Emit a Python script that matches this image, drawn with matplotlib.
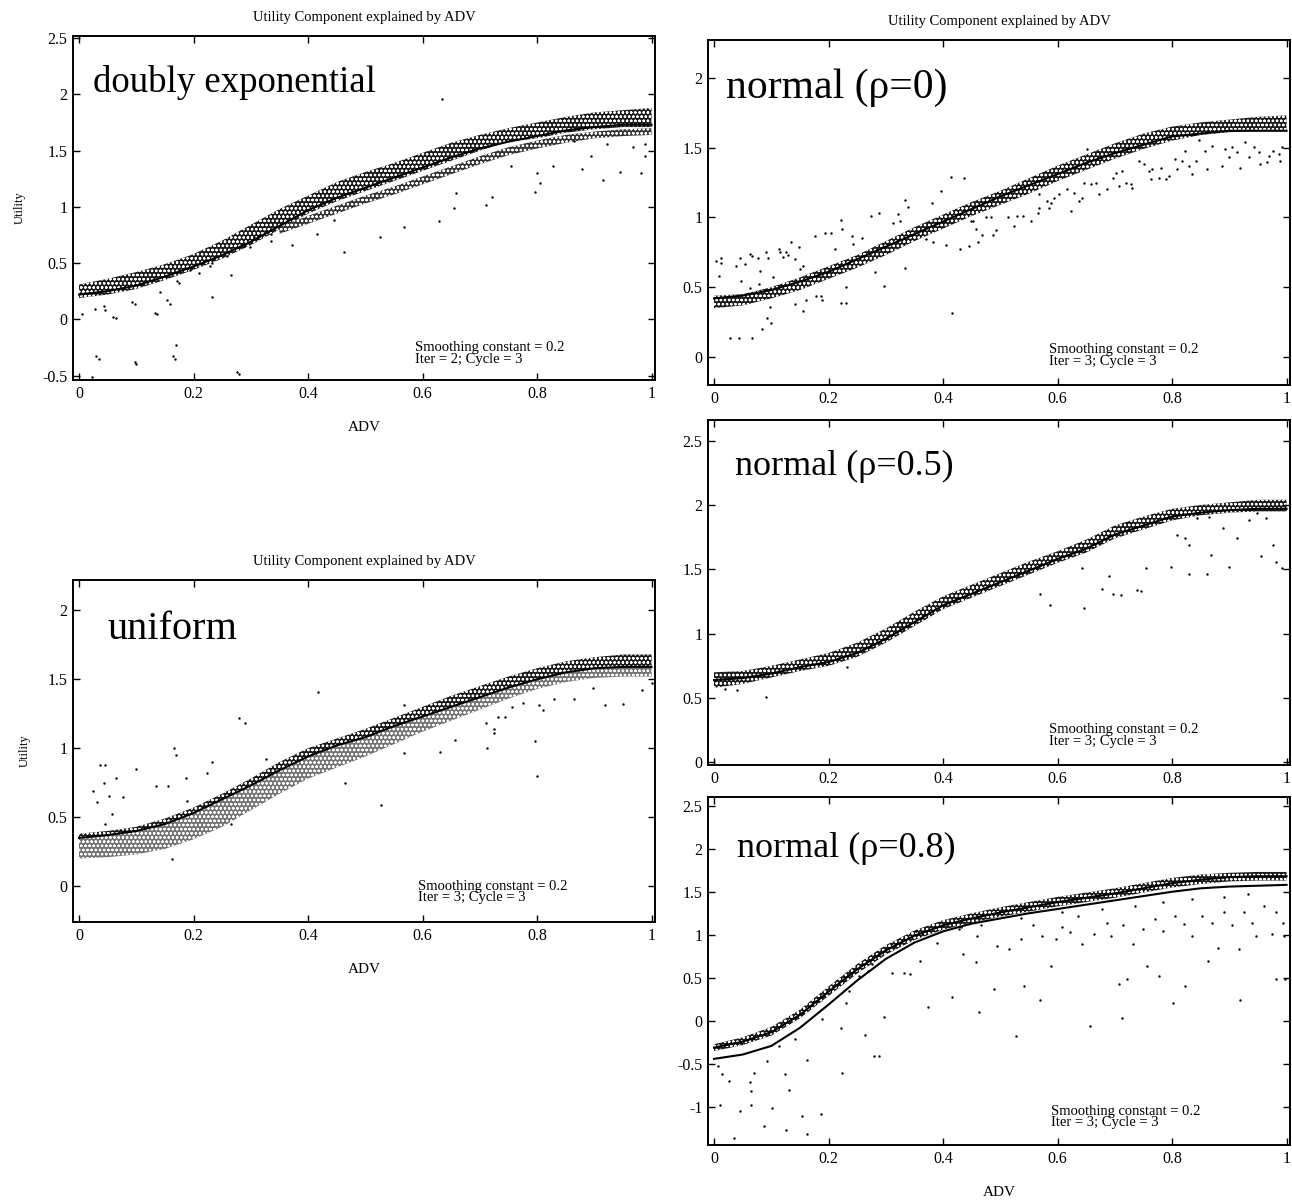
import matplotlib
matplotlib.use("Agg")
import matplotlib.pyplot as plt

plt.rcParams['font.family'] = ['Liberation Serif', 'DejaVu Serif']
plt.rcParams['hatch.linewidth'] = 0.6

# ---------------- data ----------------
X = [0.0, 0.05, 0.1, 0.15, 0.2, 0.25, 0.3, 0.35, 0.4, 0.45, 0.5,
     0.55, 0.6, 0.65, 0.7, 0.75, 0.8, 0.85, 0.9, 0.95, 1.0]
X_TICKS = [0, 0.2, 0.4, 0.6, 0.8, 1]
X_TICK_LABELS = ['0', '0.2', '0.4', '0.6', '0.8', '1']
TITLE = 'Utility Component explained by ADV'

# Panel 1: doubly exponential
P1_LINE = [0.22, 0.25, 0.30, 0.38, 0.47, 0.57, 0.69, 0.83, 0.97, 1.08, 1.17,
           1.26, 1.35, 1.44, 1.52, 1.58, 1.63, 1.68, 1.71, 1.73, 1.73]
P1_UP_TOP = [0.31, 0.36, 0.42, 0.49, 0.58, 0.70, 0.84, 0.98, 1.10, 1.22, 1.31,
             1.39, 1.48, 1.57, 1.64, 1.70, 1.75, 1.80, 1.84, 1.86, 1.88]
P1_UP_BOT = [0.19, 0.22, 0.27, 0.35, 0.44, 0.54, 0.66, 0.80, 0.94, 1.05, 1.14,
             1.23, 1.32, 1.41, 1.50, 1.58, 1.61, 1.66, 1.69, 1.71, 1.71]
P1_LOW_X = [0.35, 0.4, 0.45, 0.5, 0.55, 0.6, 0.65, 0.7, 0.75, 0.8, 0.85, 0.9, 0.95, 1.0]
P1_LOW_TOP = [0.82, 0.92, 1.01, 1.10, 1.18, 1.27, 1.36, 1.45, 1.53, 1.59, 1.64, 1.67, 1.69, 1.70]
P1_LOW_BOT = [0.76, 0.85, 0.94, 1.03, 1.11, 1.20, 1.29, 1.38, 1.46, 1.52, 1.57, 1.61, 1.63, 1.64]
P1_OUT_X = [0.634, 0.567, 0.629, 0.526, 0.463, 0.416, 0.372, 0.446, 0.655, 0.659, 0.71, 0.721,
            0.754, 0.80, 0.797, 0.805, 0.827, 0.879, 0.894, 0.916, 0.945, 0.982, 0.989, 0.989,
            0.923, 0.967, 0.864, 0.266, 0.233, 0.174, 0.137, 0.159, 0.097, 0.064, 0.046, 0.005,
            0.035, 0.10, 0.167, 0.170, 0.023, 0.28, 0.233, 0.299, 0.336, 0.21,
            0.259, 0.229, 0.206, 0.305, 0.335, 0.288, 0.194, 0.171, 0.154, 0.142, 0.133,
            0.06, 0.043, 0.028, 0.092, 0.164, 0.098, 0.03, 0.276]
P1_OUT_Y = [1.96, 0.82, 0.87, 0.73, 0.60, 0.76, 0.66, 0.88, 0.99, 1.12, 1.02, 1.09,
            1.36, 1.30, 1.13, 1.21, 1.36, 1.34, 1.45, 1.24, 1.31, 1.30, 1.45, 1.56,
            1.56, 1.53, 1.59, 0.39, 0.20, 0.32, 0.05, 0.14, 0.14, 0.01, 0.08, 0.05,
            -0.35, -0.40, -0.35, -0.23, -0.51, -0.49, 0.50, 0.64, 0.70, 0.41,
            0.56, 0.476, 0.49, 0.73, 0.757, 0.65, 0.44, 0.34, 0.17, 0.24, 0.06,
            0.02, 0.12, 0.09, 0.15, -0.33, -0.38, -0.33, -0.47]

# Panel 2: normal (rho=0)
P2_LINE = [0.42, 0.44, 0.48, 0.54, 0.61, 0.70, 0.79, 0.88, 0.97, 1.06, 1.15,
           1.23, 1.31, 1.39, 1.46, 1.52, 1.58, 1.60, 1.62, 1.62, 1.62]
P2_TOP = [0.44, 0.45, 0.50, 0.57, 0.65, 0.73, 0.83, 0.93, 1.02, 1.11, 1.19,
          1.28, 1.37, 1.45, 1.53, 1.60, 1.65, 1.68, 1.70, 1.72, 1.73]
P2_BOT = [0.35, 0.37, 0.42, 0.48, 0.56, 0.64, 0.73, 0.83, 0.92, 1.01, 1.09,
          1.17, 1.26, 1.34, 1.42, 1.49, 1.55, 1.59, 1.61, 1.62, 1.62]
P2_OUT_X = [0.003, 0.013, 0.013, 0.009, 0.038, 0.045, 0.054, 0.062, 0.066, 0.077, 0.081, 0.091,
            0.095, 0.103, 0.113, 0.115, 0.121, 0.125, 0.130, 0.135, 0.141, 0.149, 0.150, 0.155,
            0.047, 0.063, 0.079, 0.083, 0.092, 0.098, 0.100, 0.028, 0.044, 0.066, 0.142, 0.156,
            0.161, 0.178, 0.186, 0.188, 0.176, 0.193, 0.205, 0.211, 0.222, 0.224, 0.231, 0.221,
            0.231, 0.241, 0.258, 0.242, 0.274, 0.289, 0.282, 0.297, 0.312, 0.322, 0.324, 0.333,
            0.339, 0.334, 0.380, 0.371, 0.382, 0.405, 0.415, 0.430, 0.446, 0.449, 0.458, 0.461,
            0.468, 0.475, 0.484, 0.487, 0.493, 0.414, 0.437, 0.397,
            0.452, 0.513, 0.524, 0.530, 0.539, 0.553, 0.565, 0.568, 0.585, 0.588, 0.594, 0.603,
            0.568, 0.582, 0.617, 0.623, 0.629, 0.638, 0.643, 0.646, 0.652, 0.658, 0.667, 0.672,
            0.687, 0.696, 0.702, 0.707, 0.713, 0.719, 0.728, 0.730, 0.742, 0.751, 0.760, 0.763,
            0.765, 0.777, 0.780, 0.789, 0.794, 0.806, 0.809, 0.818, 0.823, 0.829, 0.835, 0.841,
            0.847, 0.858, 0.861, 0.870, 0.887, 0.893, 0.899, 0.905, 0.913, 0.919, 0.928, 0.934,
            0.943, 0.951, 0.954, 0.966, 0.969, 0.977, 0.986, 0.989, 0.992]
P2_OUT_Y = [0.688, 0.676, 0.710, 0.577, 0.650, 0.710, 0.669, 0.737, 0.725, 0.710, 0.614, 0.749,
            0.712, 0.572, 0.773, 0.749, 0.717, 0.754, 0.734, 0.821, 0.705, 0.785, 0.633, 0.652,
            0.541, 0.493, 0.524, 0.203, 0.283, 0.355, 0.241, 0.135, 0.135, 0.138, 0.379, 0.328,
            0.408, 0.435, 0.440, 0.411, 0.867, 0.891, 0.886, 0.773, 0.983, 0.915, 0.500, 0.384,
            0.384, 0.867, 0.850, 0.807, 1.012, 1.029, 0.609, 0.507, 0.959, 1.024, 0.976, 1.121,
            1.077, 0.638, 1.104, 0.848, 0.826, 0.799, 0.319, 0.773, 0.797, 0.971, 0.915, 0.821,
            0.874, 1.005, 1.000, 0.874, 0.911, 1.29, 1.28, 1.19,
            0.971, 1.000, 0.935, 1.007, 1.007, 0.971, 1.031, 1.068, 1.068, 1.104, 1.140, 1.164,
            1.164, 1.116, 1.200, 1.043, 1.176, 1.116, 1.140, 1.249, 1.490, 1.237, 1.249, 1.164,
            1.200, 1.285, 1.321, 1.225, 1.333, 1.249, 1.237, 1.212, 1.406, 1.382, 1.333, 1.273,
            1.345, 1.285, 1.357, 1.273, 1.297, 1.418, 1.345, 1.406, 1.478, 1.370, 1.309, 1.406,
            1.551, 1.478, 1.345, 1.514, 1.370, 1.490, 1.430, 1.502, 1.466, 1.357, 1.538, 1.430,
            1.502, 1.466, 1.382, 1.394, 1.442, 1.478, 1.454, 1.406, 1.502]

# Panel 3: normal (rho=0.5)
P3_LINE = [0.64, 0.655, 0.69, 0.74, 0.78, 0.85, 0.96, 1.09, 1.22, 1.31, 1.40,
           1.49, 1.58, 1.66, 1.77, 1.84, 1.91, 1.94, 1.96, 1.97, 1.97]
P3_TOP = [0.70, 0.71, 0.75, 0.80, 0.85, 0.93, 1.04, 1.17, 1.29, 1.38, 1.47,
          1.56, 1.64, 1.73, 1.84, 1.91, 1.97, 2.00, 2.02, 2.04, 2.04]
P3_BOT = [0.58, 0.61, 0.66, 0.71, 0.75, 0.82, 0.93, 1.06, 1.19, 1.28, 1.37,
          1.46, 1.55, 1.63, 1.74, 1.81, 1.88, 1.92, 1.94, 1.95, 1.95]
P3_OUT_X = [0.091, 0.643, 0.569, 0.587, 0.696, 0.710, 0.745, 0.755, 0.798, 0.829, 0.861, 0.868,
            0.90, 0.829, 0.808, 0.822, 0.843, 0.865, 0.889, 0.914, 0.935, 0.956, 0.977, 0.992,
            0.981, 0.646, 0.678, 0.689, 0.738, 0.964, 0.949, 0.02, 0.04, 0.233]
P3_OUT_Y = [0.506, 1.51, 1.31, 1.22, 1.31, 1.30, 1.33, 1.51, 1.52, 1.46, 1.46, 1.61,
            1.52, 1.69, 1.77, 1.74, 1.90, 1.91, 1.82, 1.74, 1.88, 1.60, 1.69, 1.51,
            1.56, 1.20, 1.35, 1.45, 1.34, 1.90, 1.94, 0.57, 0.56, 0.74]

# Panel 4: normal (rho=0.8)
P4_LINE_A = [-0.31, -0.24, -0.13, 0.07, 0.34, 0.60, 0.82, 0.99, 1.11, 1.19, 1.26,
             1.32, 1.38, 1.43, 1.48, 1.54, 1.60, 1.64, 1.67, 1.68, 1.68]
P4_LINE_B = [-0.44, -0.39, -0.29, -0.08, 0.19, 0.47, 0.72, 0.91, 1.04, 1.13, 1.19,
             1.25, 1.30, 1.35, 1.40, 1.45, 1.50, 1.54, 1.56, 1.57, 1.58]
P4_TOP = [-0.27, -0.19, -0.07, 0.13, 0.40, 0.66, 0.88, 1.05, 1.17, 1.25, 1.32,
          1.38, 1.44, 1.49, 1.54, 1.60, 1.66, 1.70, 1.72, 1.73, 1.73]
P4_BOT = [-0.35, -0.28, -0.17, 0.03, 0.29, 0.55, 0.77, 0.94, 1.06, 1.14, 1.21,
          1.27, 1.33, 1.38, 1.43, 1.49, 1.55, 1.59, 1.62, 1.63, 1.63]
P4_OUT_X = [0.007, 0.014, 0.027, 0.011, 0.045, 0.064, 0.064, 0.062, 0.069, 0.088, 0.102, 0.035,
            0.126, 0.154, 0.163, 0.186, 0.124, 0.131, 0.163, 0.092, 0.113, 0.141, 0.188, 0.221,
            0.223, 0.264, 0.279, 0.288, 0.297, 0.235, 0.230, 0.254, 0.269, 0.276, 0.311, 0.332,
            0.343, 0.360, 0.374, 0.415, 0.435, 0.457, 0.463, 0.489, 0.527, 0.541, 0.569, 0.588,
            0.657, 0.712, 0.707, 0.721, 0.756, 0.777, 0.802, 0.823, 0.862, 0.919, 0.982, 0.998,
            0.881, 0.917, 0.947, 0.975, 0.995, 0.353, 0.389, 0.428, 0.459, 0.495, 0.516, 0.537,
            0.558, 0.572, 0.597, 0.608, 0.622, 0.643, 0.664, 0.686, 0.693, 0.714, 0.731, 0.749,
            0.770, 0.784, 0.806, 0.820, 0.834, 0.852, 0.869, 0.890, 0.905, 0.926, 0.940, 0.961,
            0.982, 0.993, 0.735, 0.784, 0.834, 0.890, 0.933, 0.678, 0.608, 0.537, 0.466, 0.431,
            0.636]
P4_OUT_Y = [-0.52, -0.62, -0.70, -0.97, -1.04, -0.97, -0.81, -0.71, -0.60, -1.22, -1.01, -1.36,
            -1.27, -1.10, -1.31, -1.08, -0.62, -0.80, -0.45, -0.47, -0.29, -0.21, 0.02, -0.08,
            -0.60, -0.16, -0.41, -0.41, 0.05, 0.35, 0.21, 0.52, 0.58, 0.66, 0.56, 0.56,
            0.54, 0.70, 0.16, 0.28, 0.78, 0.68, 0.10, 0.37, -0.17, 0.41, 0.24, 0.64,
            -0.06, 0.04, 0.43, 0.49, 0.64, 0.52, 0.21, 0.41, 0.70, 0.24, 0.49, 0.49,
            0.85, 0.83, 0.99, 1.01, 0.99, 1.05, 0.91, 1.07, 0.99, 0.87, 0.83, 0.95,
            1.11, 0.99, 0.95, 1.09, 1.03, 0.89, 1.01, 1.14, 0.99, 1.11, 0.89, 1.07,
            1.18, 1.05, 1.22, 1.13, 0.99, 1.22, 1.14, 1.26, 1.11, 1.26, 1.14, 1.34,
            1.26, 1.14, 1.34, 1.38, 1.42, 1.44, 1.47, 1.30, 1.26, 1.20, 1.11, 1.09,
            1.22]

# Panel 5: uniform
P5_LINE = [0.35, 0.37, 0.40, 0.45, 0.53, 0.63, 0.73, 0.84, 0.94, 1.02, 1.08,
           1.16, 1.23, 1.30, 1.37, 1.44, 1.50, 1.55, 1.58, 1.59, 1.59]
P5_TOP = [0.38, 0.40, 0.43, 0.49, 0.57, 0.67, 0.78, 0.90, 1.00, 1.07, 1.14,
          1.22, 1.30, 1.38, 1.45, 1.52, 1.58, 1.63, 1.66, 1.68, 1.68]
P5_BOT = [0.20, 0.21, 0.23, 0.27, 0.34, 0.43, 0.55, 0.67, 0.78, 0.86, 0.94,
          1.03, 1.12, 1.20, 1.28, 1.36, 1.43, 1.48, 1.51, 1.52, 1.52]
P5_OUT_X = [0.037, 0.046, 0.100, 0.166, 0.170, 0.233, 0.224, 0.187, 0.135, 0.156, 0.043, 0.065,
            0.025, 0.032, 0.053, 0.076, 0.189, 0.057, 0.046, 0.266, 0.162, 0.464, 0.567, 0.527,
            0.568, 0.631, 0.657, 0.712, 0.711, 0.724, 0.724, 0.731, 0.744, 0.757, 0.775, 0.797,
            0.80, 0.803, 0.810, 0.83, 0.865, 0.898, 0.918, 0.950, 0.983, 1.0, 0.418, 0.279,
            0.29, 0.326]
P5_OUT_Y = [0.88, 0.88, 0.851, 1.0, 0.952, 0.899, 0.82, 0.784, 0.724, 0.724, 0.748, 0.784,
            0.693, 0.612, 0.652, 0.647, 0.616, 0.52, 0.448, 0.453, 0.196, 0.748, 1.31, 0.587,
            0.964, 0.971, 1.06, 1.0, 1.18, 1.14, 1.11, 1.23, 1.23, 1.30, 1.33, 1.05,
            0.80, 1.31, 1.28, 1.36, 1.36, 1.44, 1.31, 1.32, 1.42, 1.47, 1.41, 1.22,
            1.18, 0.92]

# ---------------- drawing ----------------
W, H = 1292.0, 1203.0
fig = plt.figure(figsize=(12.92, 12.03), dpi=100)


def make_axes(l, r, t, b):
    return fig.add_axes([l / W, 1 - b / H, (r - l) / W, (b - t) / H])


def style(ax, ylim, yticks, ylabels):
    ax.set_xlim(-0.0105, 1.006)
    ax.set_ylim(*ylim)
    ax.set_xticks(X_TICKS)
    ax.set_xticklabels(X_TICK_LABELS)
    ax.set_yticks(yticks)
    ax.set_yticklabels(ylabels)
    ax.tick_params(direction='in', top=True, right=True, length=5, width=1.0,
                   labelsize=11.5, pad=4)
    for s in ax.spines.values():
        s.set_linewidth(1.4)


def band(ax, x, lo, hi, shade='0.1'):
    ax.fill_between(x, lo, hi, facecolor=shade, edgecolor='white', hatch='oooo', linewidth=0)


def dots(ax, xs, ys):
    ax.scatter(xs, ys, s=3, c='black', linewidths=0)


def label(ax, txt, x, y, size):
    ax.text(x, y, txt, transform=ax.transAxes, fontsize=size, va='center', ha='left')


def note(ax, x, y, it):
    ax.text(x, y, 'Smoothing constant = 0.2\nIter = %d; Cycle = 3' % it, transform=ax.transAxes,
            fontsize=10.5, va='center', ha='left', linespacing=0.85)


# Panel 1
ax1 = make_axes(73, 655, 36, 380)
band(ax1, X, P1_UP_BOT, P1_UP_TOP)
band(ax1, P1_LOW_X, P1_LOW_BOT, P1_LOW_TOP, '0.2')
dots(ax1, P1_OUT_X, P1_OUT_Y)
ax1.plot(X, P1_LINE, color='black', lw=1.5)
style(ax1, (-0.54, 2.52), [-0.5, 0, 0.5, 1, 1.5, 2, 2.5],
      ['-0.5', '0', '0.5', '1', '1.5', '2', '2.5'])
ax1.set_title(TITLE, fontsize=10.5, pad=11)
ax1.set_ylabel('Utility', fontsize=9, labelpad=12)
ax1.set_xlabel('ADV', fontsize=11, labelpad=14)
label(ax1, 'doubly exponential', 0.034, 0.865, 26.5)
note(ax1, 0.588, 0.077, 2)

# Panel 2
ax2 = make_axes(708, 1290, 40, 385)
band(ax2, X, P2_BOT, P2_TOP)
dots(ax2, P2_OUT_X, P2_OUT_Y)
ax2.plot(X, P2_LINE, color='black', lw=1.5)
style(ax2, (-0.2, 2.27), [0, 0.5, 1, 1.5, 2], ['0', '0.5', '1', '1.5', '2'])
ax2.set_title(TITLE, fontsize=10.5, pad=11)
label(ax2, 'normal (\u03c1=0)', 0.031, 0.861, 30)
note(ax2, 0.586, 0.085, 3)

# Panel 3
ax3 = make_axes(708, 1290, 420, 765)
band(ax3, X, P3_BOT, P3_TOP)
dots(ax3, P3_OUT_X, P3_OUT_Y)
ax3.plot(X, P3_LINE, color='black', lw=1.5)
style(ax3, (-0.02, 2.66), [0, 0.5, 1, 1.5, 2, 2.5], ['0', '0.5', '1', '1.5', '2', '2.5'])
label(ax3, 'normal (\u03c1=0.5)', 0.046, 0.864, 26)
note(ax3, 0.586, 0.085, 3)

# Panel 4
ax4 = make_axes(708, 1290, 797, 1145)
band(ax4, X, P4_BOT, P4_TOP)
dots(ax4, P4_OUT_X, P4_OUT_Y)
ax4.plot(X, P4_LINE_A, color='black', lw=1.5)
ax4.plot(X, P4_LINE_B, color='black', lw=1.5)
style(ax4, (-1.44, 2.6), [-1, -0.5, 0, 0.5, 1, 1.5, 2, 2.5],
      ['-1', '-0.5', '0', '0.5', '1', '1.5', '2', '2.5'])
ax4.set_xlabel('ADV', fontsize=11, labelpad=14)
label(ax4, 'normal (\u03c1=0.8)', 0.05, 0.853, 26)
note(ax4, 0.590, 0.080, 3)

# Panel 5
ax5 = make_axes(73, 655, 580, 922)
band(ax5, X, P5_LINE, P5_TOP)
band(ax5, X, P5_BOT, P5_LINE, '0.45')
dots(ax5, P5_OUT_X, P5_OUT_Y)
ax5.plot(X, P5_LINE, color='black', lw=1.5)
style(ax5, (-0.26, 2.22), [0, 0.5, 1, 1.5, 2], ['0', '0.5', '1', '1.5', '2'])
ax5.set_title(TITLE, fontsize=10.5, pad=11)
ax5.set_ylabel('Utility', fontsize=9, labelpad=12)
ax5.set_xlabel('ADV', fontsize=11, labelpad=14)
label(ax5, 'uniform', 0.06, 0.854, 29)
note(ax5, 0.592, 0.087, 3)

fig.savefig('out.png', dpi=100)
